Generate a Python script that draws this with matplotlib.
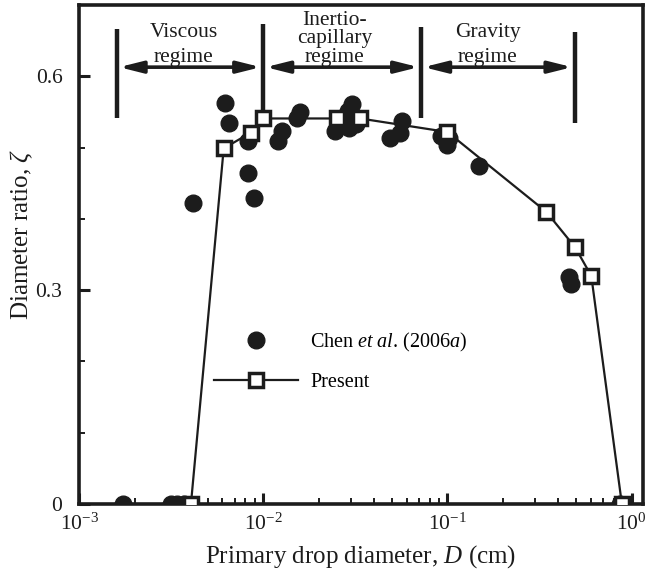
import numpy as np
import matplotlib
matplotlib.use("Agg")
import matplotlib.pyplot as plt
from matplotlib.ticker import LogLocator, MultipleLocator, FixedLocator

plt.rcParams['font.family'] = ['Liberation Serif', 'DejaVu Serif']
plt.rcParams['mathtext.fontset'] = 'custom'
plt.rcParams['mathtext.rm'] = 'Liberation Serif'
plt.rcParams['mathtext.it'] = 'Liberation Serif:italic'

INK = '#1c1c1c'

# Chen et al. (2006a) measurements
chen_D = [0.00173, 0.00315, 0.0034, 0.0037, 0.00415, 0.00618, 0.0065, 0.00824,
          0.00824, 0.0089, 0.0121, 0.0126, 0.0153, 0.0158, 0.0244, 0.0283,
          0.0287, 0.0293, 0.0302, 0.0320, 0.0485, 0.055, 0.057, 0.0927,
          0.100, 0.102, 0.149, 0.458, 0.470, 0.86]
chen_zeta = [0.0, 0.0, 0.0, 0.0, 0.423, 0.563, 0.535, 0.509,
             0.465, 0.429, 0.509, 0.523, 0.542, 0.550, 0.523, 0.535,
             0.551, 0.528, 0.561, 0.533, 0.513, 0.521, 0.537, 0.516,
             0.504, 0.514, 0.474, 0.319, 0.308, 0.0]

# present simulations
present_D = [0.00405, 0.0061, 0.00855, 0.0100, 0.0252, 0.0335, 0.100,
             0.344, 0.494, 0.604, 0.885]
present_zeta = [0.0, 0.499, 0.521, 0.541, 0.541, 0.541, 0.522,
                0.410, 0.360, 0.320, 0.0]

# regime boundaries and labels
regime_edges = [0.0016, 0.01, 0.072, 0.49]
edge_top = [0.666, 0.674, 0.670, 0.662]
edge_bottom = [0.541, 0.548, 0.541, 0.534]
arrow_level = 0.613
regime_names = ['Viscous\nregime', 'Inertio-\ncapillary\nregime', 'Gravity\nregime']
regime_text_x = [0.0037, 0.0244, 0.165]
regime_spacing = [1.45, 0.98, 1.45]

fig = plt.figure(figsize=(6.48, 5.74), dpi=100)
ax = fig.add_axes([0.122, 0.122, 0.870, 0.869])

ax.plot(chen_D, chen_zeta, 'o', color=INK, ms=12, mec=INK, zorder=3,
        label='Chen $\\it{et\\ al}$. (2006$\\it{a}$)')
ax.plot(present_D, present_zeta, '-s', color=INK, lw=1.6, ms=10, mfc='white',
        mec=INK, mew=2.5, zorder=4, label='Present')

for x, y0, y1 in zip(regime_edges, edge_bottom, edge_top):
    ax.plot([x, x], [y0, y1], color=INK, lw=3.2, solid_capstyle='butt', zorder=2)

for a, b in zip(regime_edges[:-1], regime_edges[1:]):
    ax.annotate('', xy=(b * 0.97, arrow_level), xytext=(a * 1.03, arrow_level),
                arrowprops=dict(arrowstyle='<|-|>,head_length=1.0,head_width=0.25',
                                color=INK, lw=2.6, shrinkA=0, shrinkB=0,
                                mutation_scale=14))

for name, x, ls in zip(regime_names, regime_text_x, regime_spacing):
    ax.text(x, 0.620, name, ha='center', va='baseline', fontsize=15.5,
            linespacing=ls, color=INK)

ax.set_xscale('log')
ax.set_xlim(1e-3, 1.15)
ax.set_ylim(0, 0.70)

ax.xaxis.set_major_locator(LogLocator(base=10, numticks=10))
ax.xaxis.set_minor_locator(LogLocator(base=10, subs=np.arange(2, 10), numticks=10))
ax.yaxis.set_major_locator(FixedLocator([0, 0.3, 0.6]))
ax.yaxis.set_minor_locator(MultipleLocator(0.1))
ax.set_yticklabels(['0', '0.3', '0.6'])

ax.tick_params(which='both', direction='in', top=False, right=False,
               colors=INK, labelsize=15.5)
ax.tick_params(which='major', length=8, width=2.2)
ax.tick_params(axis='x', which='major', pad=7)
ax.tick_params(axis='y', which='major', pad=12)
ax.tick_params(which='minor', length=4, width=1.4)

for s in ax.spines.values():
    s.set_linewidth(2.6)
    s.set_color(INK)

ax.set_xlabel('Primary drop diameter, $D$ (cm)', fontsize=18, color=INK, labelpad=6)
ax.set_ylabel('Diameter ratio, $\\zeta$', fontsize=18, color=INK)
ax.yaxis.set_label_coords(-0.078, 0.54)

ax.legend(loc='upper left', bbox_to_anchor=(0.239, 0.347), frameon=False,
          fontsize=14.5, handlelength=4.2, handletextpad=0.6, labelspacing=0.95,
          borderpad=0, borderaxespad=0, numpoints=1)

fig.savefig('out.png', dpi=100)
